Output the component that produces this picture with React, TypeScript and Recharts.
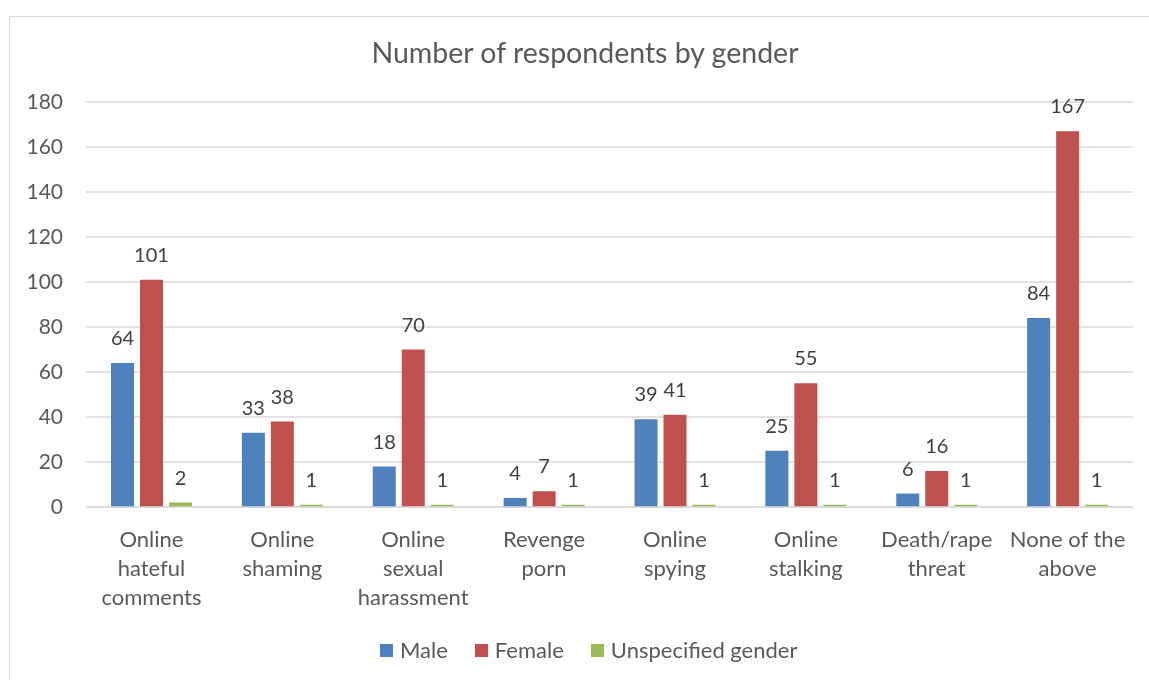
import React from 'react';
import { BarChart, Bar, XAxis, YAxis, CartesianGrid, Legend, LabelList } from 'recharts';

const categories = [
  'Online hateful comments',
  'Online shaming',
  'Online sexual harassment',
  'Revenge porn',
  'Online spying',
  'Online stalking',
  'Death/rape threat',
  'None of the above',
];
const categoryLines = [
  ['Online', 'hateful', 'comments'],
  ['Online', 'shaming'],
  ['Online', 'sexual', 'harassment'],
  ['Revenge', 'porn'],
  ['Online', 'spying'],
  ['Online', 'stalking'],
  ['Death/rape', 'threat'],
  ['None of the', 'above'],
];
const maleValues = [64, 33, 18, 4, 39, 25, 6, 84];
const femaleValues = [101, 38, 70, 7, 41, 55, 16, 167];
const unspecifiedValues = [2, 1, 1, 1, 1, 1, 1, 1];
const yTicks = [0, 20, 40, 60, 80, 100, 120, 140, 160, 180];
const seriesNames = ['Male', 'Female', 'Unspecified gender'];
const seriesColors = ['#4f81bd', '#c0504d', '#9bbb59'];
const chartTitle = 'Number of respondents by gender';

const data = categories.map((c, i) => ({
  category: c,
  male: maleValues[i],
  female: femaleValues[i],
  unspecified: unspecifiedValues[i],
}));

const FONT = 'Lato, "Open Sans", sans-serif';
const TEXT = '#595959';

function CategoryTick(props: any) {
  const { x, y, payload } = props;
  const idx = categories.indexOf(payload.value);
  const lines = idx >= 0 ? categoryLines[idx] : [String(payload.value)];
  return (
    <text x={x} y={y} textAnchor="middle" fill={TEXT} fontSize={22} fontFamily={FONT}>
      {lines.map((l, i) => (
        <tspan key={i} x={x} dy={i === 0 ? 40 : 29}>
          {l}
        </tspan>
      ))}
    </text>
  );
}

function LegendContent() {
  return (
    <div style={{ display: 'flex', alignItems: 'center', height: 20, paddingLeft: 372, fontFamily: FONT, fontSize: 22, color: TEXT }}>
      {seriesNames.map((n, i) => (
        <div key={n} style={{ display: 'flex', alignItems: 'center', marginRight: 27 }}>
          <div style={{ width: 13, height: 13, background: seriesColors[i], marginRight: 7 }} />
          <span style={{ lineHeight: '20px' }}>{n}</span>
        </div>
      ))}
    </div>
  );
}

export default function App() {
  return (
    <div style={{ position: 'relative', width: 1141, height: 664 }}>
      <div
        style={{
          position: 'fixed',
          left: 9,
          top: 16,
          width: 1300,
          height: 800,
          border: '1px solid #d9d9d9',
          boxSizing: 'border-box',
          background: '#fff',
        }}
      />
      <div
        style={{
          position: 'absolute',
          left: 0,
          width: 1154,
          top: 27,
          textAlign: 'center',
          fontFamily: FONT,
          fontSize: 28.5,
          color: TEXT,
          lineHeight: '34px',
        }}
      >
        {chartTitle}
      </div>
      <div style={{ position: 'absolute', left: 0, top: 0 }}>
        <BarChart
          width={1141}
          height={664}
          data={data}
          margin={{ top: 94, right: 16, left: 0, bottom: 45 }}
          barCategoryGap={25}
          barGap={6}
        >
          <CartesianGrid vertical={false} stroke="#d9d9d9" strokeWidth={1.5} />
          <XAxis
            dataKey="category"
            interval={0}
            height={100}
            tickLine={false}
            tickSize={0}
            tickMargin={0}
            axisLine={{ stroke: '#d9d9d9', strokeWidth: 1.5 }}
            tick={<CategoryTick />}
          />
          <YAxis
            width={78}
            domain={[0, 180]}
            ticks={yTicks}
            interval={0}
            axisLine={false}
            tickLine={false}
            tickSize={0}
            tickMargin={23}
            tick={{ fill: TEXT, fontSize: 21, fontFamily: FONT }}
          />
          <Legend verticalAlign="bottom" content={<LegendContent />} wrapperStyle={{ left: 0, bottom: 12, width: 1141, height: 20 }} />
          <Bar dataKey="male" name={seriesNames[0]} fill={seriesColors[0]} isAnimationActive={false}>
            <LabelList dataKey="male" position="top" offset={18} fill="#404040" fontSize={20} fontFamily={FONT} />
          </Bar>
          <Bar dataKey="female" name={seriesNames[1]} fill={seriesColors[1]} isAnimationActive={false}>
            <LabelList dataKey="female" position="top" offset={18} fill="#404040" fontSize={20} fontFamily={FONT} />
          </Bar>
          <Bar dataKey="unspecified" name={seriesNames[2]} fill={seriesColors[2]} isAnimationActive={false}>
            <LabelList dataKey="unspecified" position="top" offset={18} fill="#404040" fontSize={20} fontFamily={FONT} />
          </Bar>
        </BarChart>
      </div>
    </div>
  );
}
